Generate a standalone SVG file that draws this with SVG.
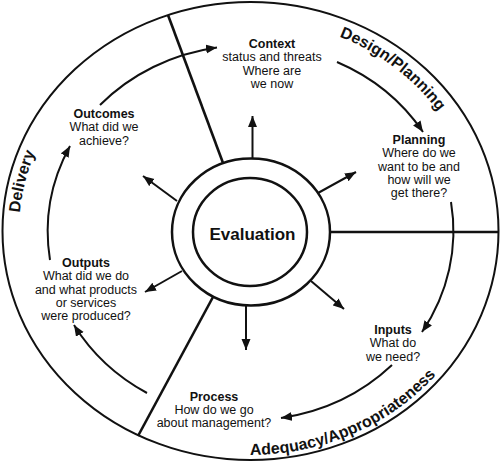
<svg xmlns="http://www.w3.org/2000/svg" width="500" height="465" viewBox="0 0 500 465">
  <style>
    text { font-family: "Liberation Sans", Arial, sans-serif; fill: #111; }
    .lbl { font-size: 12.5px; text-anchor: middle; }
    .ttl { font-weight: bold; }
    .sector { font-size: 16px; font-weight: bold; }
    .frame { fill: none; stroke: #111; stroke-width: 2; }
    .div { stroke: #111; stroke-width: 2.6; fill: none; }
    .arr { fill: none; stroke: #111; stroke-width: 2; marker-end: url(#ah); }
  </style>
  <defs>
    <marker id="ah" markerUnits="userSpaceOnUse" markerWidth="12" markerHeight="10" refX="11" refY="4.5" orient="auto">
      <path d="M0,0 L11,4.5 L0,9 Z" fill="#111"/>
    </marker>
    <path id="pDelivery" d="M 29.3 294.2 A 232 215 0 0 1 81.1 84.6"/>
    <path id="pDesign" d="M 307.5 26.6 A 227 211 0 0 1 455.7 139.8"/>
    <path id="pAdequacy" d="M 229.9 454.0 A 241.5 223.8 0 0 0 448.8 359.4"/>
  </defs>

  <rect width="500" height="465" fill="#fff"/>

  <g id="frame">
    <ellipse class="frame" cx="250.5" cy="231" rx="248" ry="229"/>
    <line class="div" x1="168" y1="15" x2="223" y2="163"/>
    <line class="div" x1="213" y1="297" x2="138" y2="436"/>
    <line class="div" x1="330" y1="232" x2="498.5" y2="232"/>
  </g>

  <g id="sector-labels">
    <text class="sector"><textPath href="#pDelivery" startOffset="50%" text-anchor="middle">Delivery</textPath></text>
    <text class="sector"><textPath href="#pDesign" startOffset="50%" text-anchor="middle">Design/Planning</textPath></text>
    <text class="sector"><textPath href="#pAdequacy" startOffset="50%" text-anchor="middle">Adequacy/Appropriateness</textPath></text>
  </g>

  <g id="connectors">
    <line class="arr" x1="252.5" y1="158" x2="252.5" y2="116"/>
    <line class="arr" x1="318" y1="193" x2="356" y2="172"/>
    <line class="arr" x1="311" y1="281" x2="344" y2="309"/>
    <line class="arr" x1="246" y1="305" x2="246" y2="350"/>
    <line class="arr" x1="182" y1="271" x2="145" y2="292"/>
    <line class="arr" x1="177" y1="201" x2="143" y2="176"/>
    <path class="arr" d="M 100 105 A 201 188 0 0 1 217 47.5"/>
    <path class="arr" d="M 337 62 A 201 188 0 0 1 423 132"/>
    <path class="arr" d="M 451 202 A 201 188 0 0 1 422 332"/>
    <path class="arr" d="M 392 365 A 201 188 0 0 1 281 418"/>
    <path class="arr" d="M 147 393 A 201 188 0 0 1 74 325"/>
    <path class="arr" d="M 50 260 A 201 188 0 0 1 70 146"/>
  </g>

  <g id="evaluation">
    <ellipse cx="251" cy="232" rx="79" ry="73.5" fill="#fff" stroke="#111" stroke-width="2.5"/>
    <ellipse cx="250" cy="232" rx="57" ry="54" fill="#fff" stroke="#111" stroke-width="2.5"/>
    <text x="252.5" y="240" font-size="17" font-weight="bold" text-anchor="middle">Evaluation</text>
  </g>

  <g id="context">
    <text class="lbl" x="272" y="48"><tspan class="ttl">Context</tspan><tspan x="272" dy="13.3">status and threats</tspan><tspan x="272" dy="13.3">Where are</tspan><tspan x="272" dy="13.3">we now</tspan></text>
  </g>

  <g id="planning">
    <text class="lbl" x="419" y="144"><tspan class="ttl">Planning</tspan><tspan x="419" dy="13.3">Where do we</tspan><tspan x="419" dy="13.3">want to be and</tspan><tspan x="419" dy="13.3">how will we</tspan><tspan x="419" dy="13.3">get there?</tspan></text>
  </g>

  <g id="inputs">
    <text class="lbl" x="393" y="334"><tspan class="ttl">Inputs</tspan><tspan x="393" dy="13.3">What do</tspan><tspan x="393" dy="13.3">we need?</tspan></text>
  </g>

  <g id="process">
    <text class="lbl" x="214" y="400.5"><tspan class="ttl">Process</tspan><tspan x="214" dy="13.2">How do we go</tspan><tspan x="214" dy="13.2">about management?</tspan></text>
  </g>

  <g id="outputs">
    <text class="lbl" x="86" y="267"><tspan class="ttl">Outputs</tspan><tspan x="86" dy="13.3">What did we do</tspan><tspan x="86" dy="13.3">and what products</tspan><tspan x="86" dy="13.3">or services</tspan><tspan x="86" dy="13.3">were produced?</tspan></text>
  </g>

  <g id="outcomes">
    <text class="lbl" x="104" y="118"><tspan class="ttl">Outcomes</tspan><tspan x="104" dy="13.3">What did we</tspan><tspan x="104" dy="13.3">achieve?</tspan></text>
  </g>
</svg>
